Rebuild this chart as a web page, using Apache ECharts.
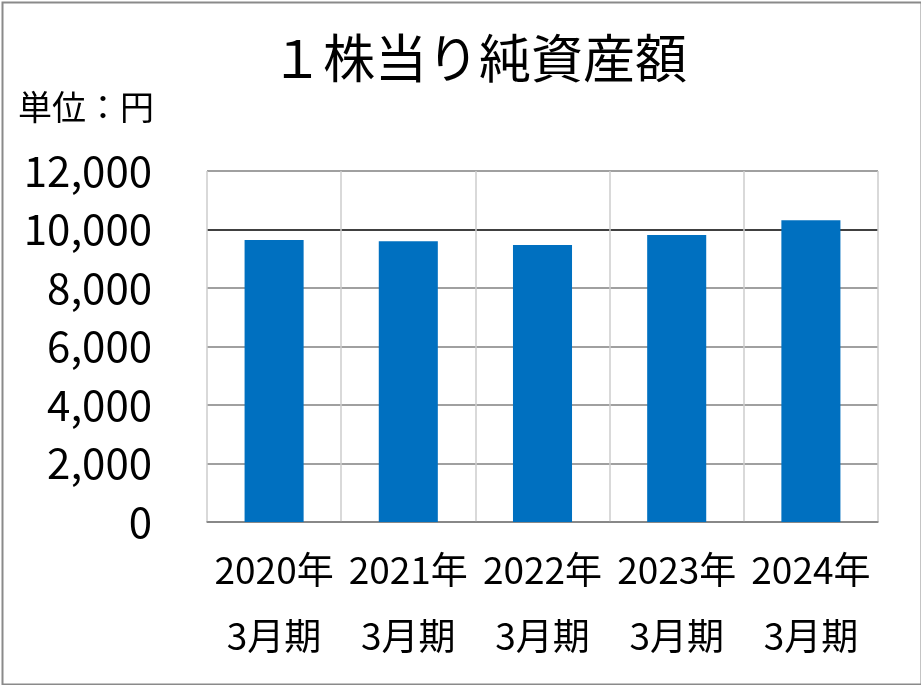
<!DOCTYPE html>
<html><head><meta charset="utf-8">
<script src="https://cdn.jsdelivr.net/npm/echarts@6/dist/echarts.min.js"></script>
<style>html,body{margin:0;padding:0;background:#fff}#c{width:921px;height:685px}</style>
</head><body><div id="c"></div>
<script>
const titleText = '１株当り純資産額';
const unitText = '単位：円';
const categories = ['2020年\n3月期', '2021年\n3月期', '2022年\n3月期', '2023年\n3月期', '2024年\n3月期'];
const values = [9640, 9600, 9470, 9810, 10320];
const yTicks = { min: 0, max: 12000, interval: 2000 };
const FONT = '"Noto Sans CJK JP", "Noto Sans", sans-serif';

const chart = echarts.init(document.getElementById('c'), null, { renderer: 'canvas' });
chart.setOption({
  backgroundColor: '#fff',
  animation: false,
  graphic: [
    { type: 'rect', left: 0, top: 0, shape: { x: 1, y: 1, width: 919, height: 682 },
      style: { fill: 'none', stroke: '#8a8a8a', lineWidth: 2 }, z: 100 },
    { type: 'text', left: 18, top: 90, style: { text: unitText, font: '34px ' + FONT, fill: '#000' } }
  ],
  title: {
    text: titleText, left: 266, top: 27,
    textStyle: { fontFamily: FONT, fontSize: 52, fontWeight: 'normal', color: '#000' }
  },
  grid: { left: 207, right: 43, top: 171, bottom: 163, containLabel: false },
  xAxis: {
    type: 'category', data: categories,
    axisLine: { show: true, lineStyle: { color: '#808080', width: 1.5 } },
    axisTick: { show: false },
    splitLine: { show: true, lineStyle: { color: '#cccccc', width: 1.5 } },
    axisLabel: { fontFamily: FONT, fontSize: 37, color: '#000', lineHeight: 66, margin: 15, interval: 0 }
  },
  yAxis: {
    type: 'value', min: yTicks.min, max: yTicks.max, interval: yTicks.interval,
    axisLine: { show: false }, axisTick: { show: false },
    splitLine: { show: true, lineStyle: { color: ['#808080','#808080','#808080','#808080','#808080','#000000','#808080'], width: 1.5 } },
    axisLabel: { fontFamily: FONT, fontSize: 42, color: '#000', margin: 55,
      formatter: v => v.toLocaleString('en-US') }
  },
  series: [{
    type: 'bar', data: values, barWidth: '44%',
    itemStyle: { color: '#0070C0' }
  }]
});
</script></body></html>
